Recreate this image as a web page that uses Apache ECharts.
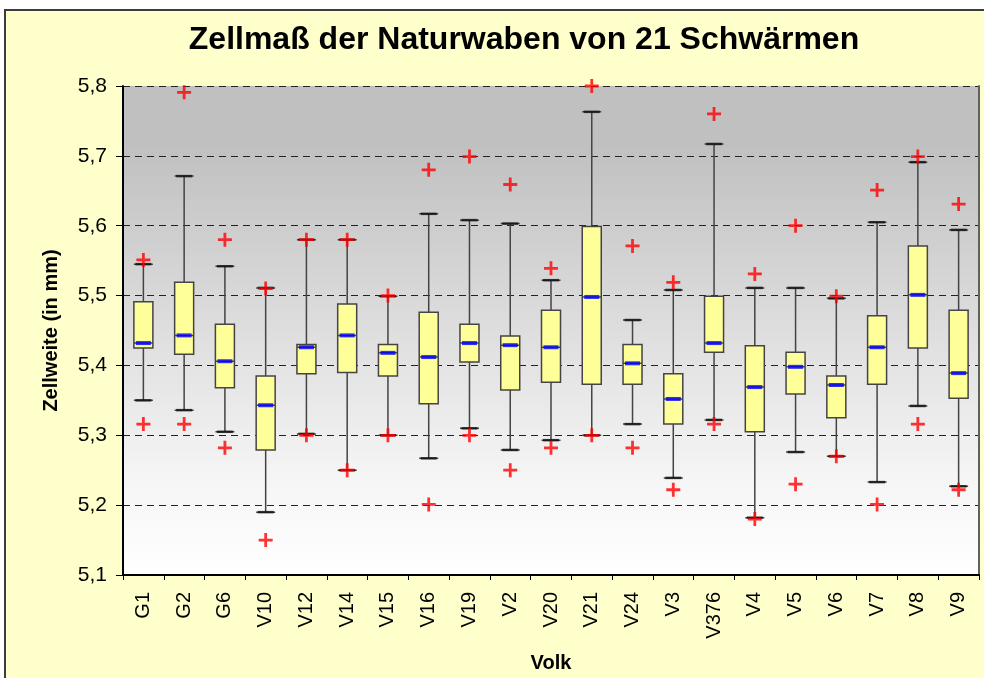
<!DOCTYPE html>
<html>
<head>
<meta charset="utf-8">
<script src="https://cdn.jsdelivr.net/npm/echarts@6/dist/echarts.min.js"></script>
<style>
  html, body { margin: 0; padding: 0; background: #fff; }
  #frame { position: absolute; left: 4px; top: 9px; width: 1000px; height: 700px; background: #ffffcc; border: 2px solid #3c3c3c; }
  #main { position: absolute; left: 0; top: 0; width: 984px; height: 678px; }
</style>
</head>
<body>
<div id="frame"></div>
<div id="main"></div>
<script>
var categories = ['G1', 'G2', 'G6', 'V10', 'V12', 'V14', 'V15', 'V16', 'V19', 'V2', 'V20',
  'V21', 'V24', 'V3', 'V376', 'V4', 'V5', 'V6', 'V7', 'V8', 'V9']
var lowerWhisker = [5.350, 5.336, 5.305, 5.190, 5.302, 5.250, 5.300, 5.267, 5.310, 5.279, 5.293,
  5.300, 5.316, 5.239, 5.322, 5.182, 5.276, 5.270, 5.233, 5.342, 5.227]
var q1 = [5.425, 5.416, 5.368, 5.279, 5.388, 5.390, 5.385, 5.345, 5.405, 5.365, 5.376,
  5.373, 5.373, 5.316, 5.419, 5.305, 5.359, 5.325, 5.373, 5.425, 5.353]
var median = [5.432, 5.443, 5.406, 5.343, 5.426, 5.443, 5.418, 5.412, 5.432, 5.429, 5.426,
  5.498, 5.403, 5.352, 5.432, 5.369, 5.398, 5.372, 5.426, 5.501, 5.389]
var q3 = [5.491, 5.519, 5.459, 5.385, 5.430, 5.488, 5.430, 5.476, 5.459, 5.442, 5.479,
  5.599, 5.430, 5.388, 5.499, 5.428, 5.419, 5.385, 5.471, 5.571, 5.479]
var upperWhisker = [5.545, 5.671, 5.542, 5.511, 5.580, 5.580, 5.499, 5.617, 5.608, 5.603, 5.522,
  5.763, 5.465, 5.508, 5.717, 5.511, 5.511, 5.496, 5.605, 5.691, 5.594]
var maxMark = [5.551, 5.791, 5.580, 5.510, 5.580, 5.580, 5.500, 5.680, 5.699, 5.659, 5.539,
  5.800, 5.571, 5.519, 5.760, 5.531, 5.600, 5.499, 5.651, 5.699, 5.631]
var minMark = [5.316, 5.316, 5.282, 5.150, 5.300, 5.250, 5.300, 5.201, 5.300, 5.250, 5.282,
  5.300, 5.282, 5.222, 5.316, 5.180, 5.230, 5.270, 5.201, 5.316, 5.222]
var yTicks = { min: 5.1, max: 5.8, interval: 0.1 }

var boxData = categories.map(function (c, i) {
    return [lowerWhisker[i], q1[i], median[i], q3[i], upperWhisker[i]]
})
var capData = []
var crossData = []
categories.forEach(function (c, i) {
    capData.push([c, lowerWhisker[i]], [c, upperWhisker[i]])
    crossData.push([c, minMark[i]], [c, maxMark[i]])
})

var font = "'Liberation Sans', Arial, sans-serif"
var plus = 'path://M4,0H6V4H10V6H6V10H4V6H0V4H4Z'

var myChart = echarts.init(document.getElementById('main'))
var option = {
    animation: false,
    title: {
        text: 'Zellmaß der Naturwaben von 21 Schwärmen',
        left: 524,
        top: 24,
        padding: 0,
        textAlign: 'center',
        textStyle: { fontFamily: font, fontSize: 32, fontWeight: 'bold', color: '#000' }
    },
    grid: {
        left: 123,
        right: 5,
        top: 86,
        bottom: 103,
        show: true,
        borderWidth: 0,
        backgroundColor: {
            type: 'linear', x: 0, y: 0, x2: 0, y2: 1,
            colorStops: [
                { offset: 0, color: '#c0c0c0' },
                { offset: 0.12, color: '#c0c0c0' },
                { offset: 0.5, color: '#dedede' },
                { offset: 0.8, color: '#f5f5f5' },
                { offset: 1, color: '#ffffff' }
            ]
        }
    },
    xAxis: {
        type: 'category',
        data: categories,
        name: 'Volk',
        nameLocation: 'middle',
        nameGap: 78,
        nameTextStyle: { fontFamily: font, fontSize: 20, fontWeight: 'bold', color: '#000' },
        axisLine: { lineStyle: { color: '#000', width: 2 } },
        axisTick: { show: true, length: 5, lineStyle: { color: '#000' } },
        axisLabel: { rotate: 90, margin: 17, fontFamily: font, fontSize: 20, color: '#000', interval: 0 },
        splitLine: { show: false }
    },
    yAxis: [
        {
            type: 'value',
            min: yTicks.min,
            max: yTicks.max,
            interval: yTicks.interval,
            name: 'Zellweite (in mm)',
            nameLocation: 'middle',
            nameRotate: 90,
            nameGap: 62,
            nameTextStyle: { fontFamily: font, fontSize: 20, fontWeight: 'bold', color: '#000' },
            axisLine: { show: true, lineStyle: { color: '#000', width: 2 } },
            axisTick: { show: true, length: 7, lineStyle: { color: '#000' } },
            axisLabel: {
                margin: 16,
                fontFamily: font,
                fontSize: 21,
                color: '#000',
                formatter: function (v) { return v.toFixed(1).replace('.', ',') }
            },
            splitLine: { show: true, lineStyle: { color: '#222', width: 1, type: [7, 5] } }
        },
        {
            type: 'value',
            position: 'right',
            min: yTicks.min,
            max: yTicks.max,
            interval: yTicks.interval,
            axisLine: { show: true, lineStyle: { color: '#606060', width: 2 } },
            axisTick: { show: false },
            axisLabel: { show: false },
            splitLine: { show: false }
        }
    ],
    series: [
        {
            name: 'box',
            type: 'boxplot',
            data: boxData,
            boxWidth: [19, 19],
            itemStyle: { color: '#ffff99', borderColor: '#444444', borderWidth: 1.5 },
            z: 2
        },
        {
            name: 'caps',
            type: 'scatter',
            data: capData,
            symbol: 'rect',
            symbolSize: [16, 2.5],
            itemStyle: { color: '#111' },
            z: 3
        },
        {
            name: 'median',
            type: 'scatter',
            data: categories.map(function (c, i) { return [c, median[i]] }),
            symbol: 'rect',
            symbolSize: [15, 4],
            itemStyle: { color: '#0000ff' },
            z: 4
        },
        {
            name: 'extreme',
            type: 'scatter',
            data: crossData,
            symbol: plus,
            symbolSize: 14,
            itemStyle: { color: '#ff0000' },
            clip: false,
            z: 5
        }
    ]
}
myChart.setOption(option)
</script>
</body>
</html>
